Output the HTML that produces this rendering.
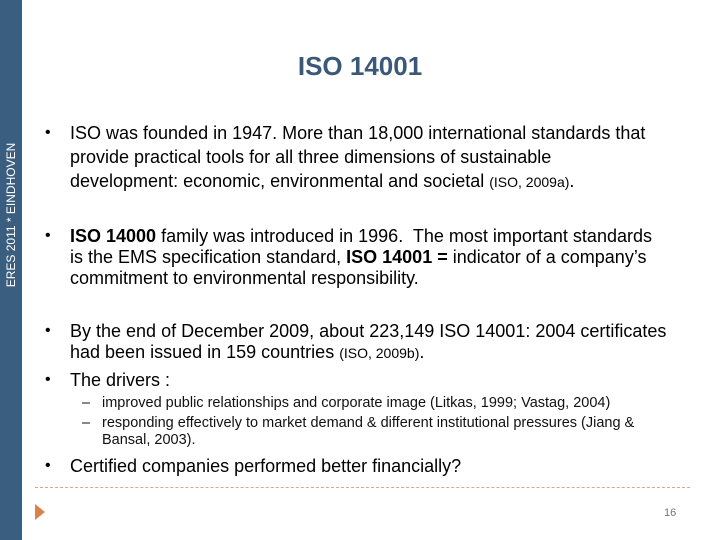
<!DOCTYPE html>
<html><head><meta charset="utf-8"><style>
body{margin:0;width:720px;height:540px;overflow:hidden;background:#fff;font-family:"Liberation Sans",sans-serif;color:#000;position:relative}
.l{position:absolute;white-space:nowrap;font-size:18px;line-height:20px}
.b{position:absolute;font-size:16px;line-height:20px}
.s{position:absolute;white-space:nowrap;font-size:14.5px;line-height:16px;color:#111}
small{font-size:14px}
</style></head><body>
<div style="position:absolute;left:0;top:0;width:22px;height:540px;background:#3a5e80"></div>
<div style="position:absolute;left:11px;top:215px;transform:translate(-50%,-50%) rotate(-90deg);color:#fff;font-size:12px;white-space:nowrap">ERES 2011 * EINDHOVEN</div>
<div style="position:absolute;left:0;width:720px;top:51px;text-align:center;font-size:26px;font-weight:bold;color:#3b5878">ISO 14001</div>

<div>
<div class="b" style="left:45px;top:123px">•</div>
<div class="l" style="left:70px;top:123px">ISO was founded in 1947. More than 18,000 international standards that</div>
<div class="l" style="left:70px;top:147px">provide practical tools for all three dimensions of sustainable</div>
<div class="l" style="left:70px;top:171px">development: economic, environmental and societal <small>(ISO, 2009a)</small>.</div>
</div>
<div>
<div class="b" style="left:45px;top:226px">•</div>
<div class="l" style="left:70px;top:226px"><b>ISO 14000</b> family was introduced in 1996.&nbsp; The most important standards</div>
<div class="l" style="left:70px;top:247px">is the EMS specification standard, <b>ISO 14001 =</b> indicator of a company’s</div>
<div class="l" style="left:70px;top:268px">commitment to environmental responsibility.</div>
</div>
<div>
<div class="b" style="left:45px;top:321px">•</div>
<div class="l" style="left:70px;top:321px">By the end of December 2009, about 223,149 ISO 14001: 2004 certificates</div>
<div class="l" style="left:70px;top:342px">had been issued in 159 countries <small>(ISO, 2009b)</small>.</div>
</div>
<div>
<div class="b" style="left:45px;top:370px">•</div>
<div class="l" style="left:70px;top:370px">The drivers :</div>
<div class="s" style="left:82px;top:395px">–</div>
<div class="s" style="left:102px;top:395px">improved public relationships and corporate image (Litkas, 1999; Vastag, 2004)</div>
<div class="s" style="left:82px;top:415px">–</div>
<div class="s" style="left:102px;top:415px">responding effectively to market demand &amp; different institutional pressures (Jiang &amp;</div>
<div class="s" style="left:102px;top:432px">Bansal, 2003).</div>
</div>
<div>
<div class="b" style="left:45px;top:456px">•</div>
<div class="l" style="left:70px;top:456px">Certified companies performed better financially?</div>
</div>

<div style="position:absolute;left:35px;top:487px;width:655px;border-top:1px dashed #d9a887"></div>
<div style="position:absolute;left:35px;top:504px;width:0;height:0;border-top:8px solid transparent;border-bottom:8px solid transparent;border-left:10px solid #d9834a"></div>
<div style="position:absolute;left:664px;top:507px;font-size:11px;color:#777">16</div>
</body></html>
